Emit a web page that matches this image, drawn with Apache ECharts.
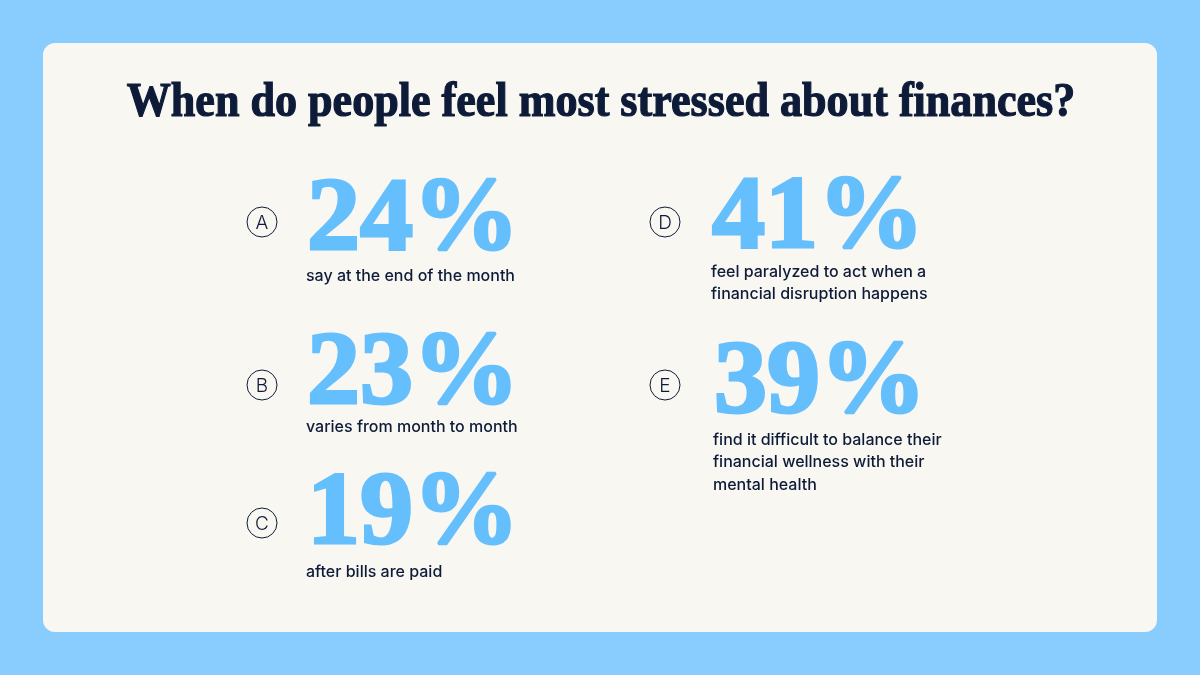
<!DOCTYPE html>
<html><head><meta charset="utf-8">
<script src="https://cdn.jsdelivr.net/npm/echarts@6/dist/echarts.min.js"></script>
<style>html,body{margin:0;padding:0;background:#88CDFE;}#c{width:1200px;height:675px;}</style>
</head><body><div id="c"></div>
<script>
const titleText = 'When do people feel most stressed about finances?';
const letters = ['A', 'B', 'C', 'D', 'E'];
const values = [24, 23, 19, 41, 39];
const captions = [
  ['say at the end of the month'],
  ['varies from month to month'],
  ['after bills are paid'],
  ['feel paralyzed to act when a', 'financial disruption happens'],
  ['find it difficult to balance their', 'financial wellness with their', 'mental health']
];

// layout (positions only)
const layout = [
  {cx: 262, cy: 222, nx: 307, ny: 222, ly: 276},
  {cx: 262, cy: 385, nx: 307, ny: 376, ly: 427},
  {cx: 262, cy: 523, nx: 307, ny: 516, ly: 572},
  {cx: 665, cy: 222, nx: 712, ny: 220, ly: 272},
  {cx: 665, cy: 385, nx: 714, ny: 385, ly: 440}
];
const navy = '#0D1B38';
const blue = '#66BFFD';

const chart = echarts.init(document.getElementById('c'), null, {renderer: 'canvas'});
const g = [];
g.push({type: 'rect', shape: {x: 0, y: 0, width: 1200, height: 675}, style: {fill: '#88CDFE'}, z: 0});
g.push({type: 'rect', shape: {x: 43, y: 43, width: 1114, height: 589, r: 12}, style: {fill: '#F9F7F2'}, z: 1});
g.push({type: 'text', z: 2, x: 601, y: 103, scaleX: 0.9, style: {text: titleText, x: 0, y: 0, fill: navy,
  stroke: navy, lineWidth: 1.2,
  font: 'bold 49px "Liberation Serif"', align: 'center', verticalAlign: 'middle'}});
letters.forEach((L, i) => {
  const p = layout[i];
  g.push({type: 'circle', z: 2, shape: {cx: p.cx, cy: p.cy, r: 15}, style: {fill: 'none', stroke: navy, lineWidth: 1}});
  g.push({type: 'text', z: 3, style: {text: L, x: p.cx, y: p.cy + 1, fill: navy, font: '300 19px "Inter"', align: 'center', verticalAlign: 'middle'}});
  g.push({type: 'text', z: 3, x: p.nx, y: p.ny, scaleX: 1.03, style: {text: values[i] + '%', x: 0, y: 0, fill: blue, stroke: blue, lineWidth: 3,
    font: 'bold 103px "Liberation Serif"', align: 'left', verticalAlign: 'middle'}});
  captions[i].forEach((line, k) => {
    g.push({type: 'text', z: 3, style: {text: line, x: p.nx - 1, y: p.ly + k * 22.5, fill: navy, font: '500 16px "Inter"', align: 'left', verticalAlign: 'middle'}});
  });
});
chart.setOption({backgroundColor: '#88CDFE', animation: false, graphic: {elements: g}});
</script></body></html>
